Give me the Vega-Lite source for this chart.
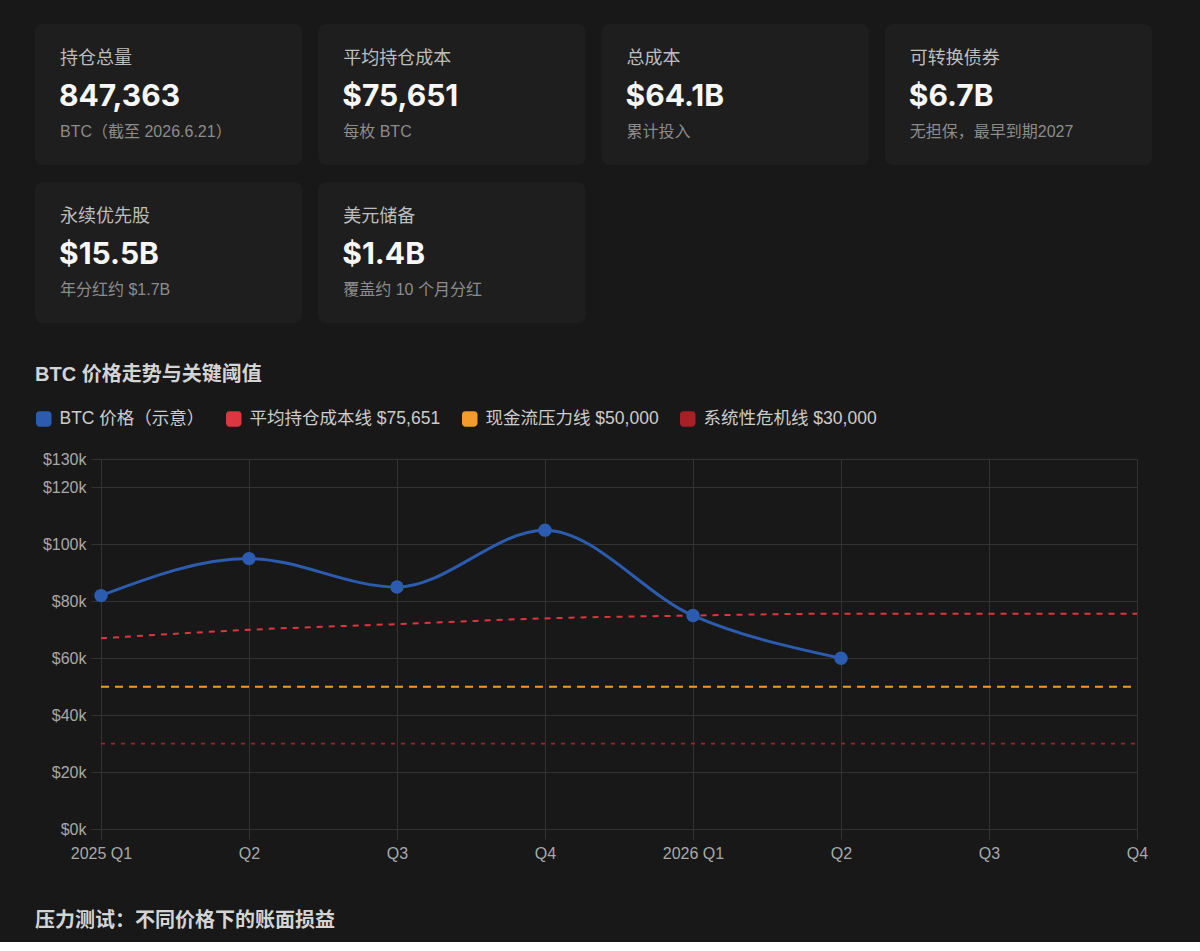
{
  "$schema": "https://vega.github.io/schema/vega-lite/v6.json",
  "background": "#181818",
  "padding": {"top": 24, "left": 35, "right": 48, "bottom": 11},
  "config": {"view": {"stroke": null}},
  "title": {
    "text": "压力测试：不同价格下的账面损益",
    "orient": "bottom",
    "anchor": "start",
    "frame": "bounds",
    "offset": 50,
    "fontSize": 20,
    "fontWeight": "bold",
    "color": "#d4d4d4",
    "font": "Liberation Sans, Noto Sans CJK SC"
  },
  "spacing": 42,
  "resolve": {"legend": {"color": "independent"}},
  "vconcat": [
    {
      "width": 1051,
      "height": 299,
      "data": {
        "values": [
          {"col": 0, "row": 0, "label": "持仓总量", "value": "847,363", "sub": "BTC（截至 2026.6.21）"},
          {"col": 1, "row": 0, "label": "平均持仓成本", "value": "$75,651", "sub": "每枚 BTC"},
          {"col": 2, "row": 0, "label": "总成本", "value": "$64.1B", "sub": "累计投入"},
          {"col": 3, "row": 0, "label": "可转换债券", "value": "$6.7B", "sub": "无担保，最早到期2027"},
          {"col": 0, "row": 1, "label": "永续优先股", "value": "$15.5B", "sub": "年分红约 $1.7B"},
          {"col": 1, "row": 1, "label": "美元储备", "value": "$1.4B", "sub": "覆盖约 10 个月分红"}
        ]
      },
      "encoding": {
        "x": {"field": "col", "type": "ordinal", "scale": {"domain": [0, 1, 2, 3], "range": [-66, 1051], "paddingInner": 0.0565, "paddingOuter": 0}, "axis": null},
        "y": {"field": "row", "type": "ordinal", "scale": {"domain": [0, 1], "paddingInner": 0.1076, "paddingOuter": 0}, "axis": null}
      },
      "layer": [
        {"mark": {"type": "rect", "fill": "#1e1e1e", "cornerRadius": 8}},
        {
          "mark": {"type": "text", "align": "left", "baseline": "middle", "dx": 25, "dy": 35, "fontSize": 18, "color": "#bdbdbd", "font": "Liberation Sans, Noto Sans CJK SC"},
          "encoding": {
            "x": {"field": "col", "type": "ordinal", "bandPosition": 0},
            "y": {"field": "row", "type": "ordinal", "bandPosition": 0},
            "text": {"field": "label"}
          }
        },
        {
          "mark": {"type": "text", "align": "left", "baseline": "middle", "dx": 24, "dy": 73, "fontSize": 30, "fontWeight": "bold", "color": "#f7f7f7", "font": "Inter, Noto Sans CJK SC"},
          "encoding": {
            "x": {"field": "col", "type": "ordinal", "bandPosition": 0},
            "y": {"field": "row", "type": "ordinal", "bandPosition": 0},
            "text": {"field": "value"}
          }
        },
        {
          "mark": {"type": "text", "align": "left", "baseline": "middle", "dx": 25, "dy": 107.5, "fontSize": 16, "color": "#8c8c8c", "font": "Liberation Sans, Noto Sans CJK SC"},
          "encoding": {
            "x": {"field": "col", "type": "ordinal", "bandPosition": 0},
            "y": {"field": "row", "type": "ordinal", "bandPosition": 0},
            "text": {"field": "sub"}
          }
        }
      ]
    },
    {
      "width": 1036,
      "height": 370,
      "title": {
        "text": "BTC 价格走势与关键阈值",
        "anchor": "start",
        "frame": "bounds",
        "offset": 25,
        "fontSize": 20,
        "fontWeight": "bold",
        "color": "#d4d4d4",
        "font": "Liberation Sans, Noto Sans CJK SC"
      },
      "data": {
        "values": [
          {"q": "2025 Q1", "btc": 82000, "cost": 67000, "cash": 50000, "crisis": 30000},
          {"q": "2025 Q2", "btc": 95000, "cost": 70000, "cash": 50000, "crisis": 30000},
          {"q": "2025 Q3", "btc": 85000, "cost": 72000, "cash": 50000, "crisis": 30000},
          {"q": "2025 Q4", "btc": 105000, "cost": 74000, "cash": 50000, "crisis": 30000},
          {"q": "2026 Q1", "btc": 75000, "cost": 75000, "cash": 50000, "crisis": 30000},
          {"q": "2026 Q2", "btc": 60000, "cost": 75651, "cash": 50000, "crisis": 30000},
          {"q": "2026 Q3", "btc": null, "cost": 75651, "cash": 50000, "crisis": 30000},
          {"q": "2026 Q4", "btc": null, "cost": 75651, "cash": 50000, "crisis": 30000}
        ]
      },
      "encoding": {
        "x": {
          "field": "q",
          "type": "ordinal",
          "scale": {"type": "point", "padding": 0},
          "axis": {
            "title": null,
            "labelAngle": 0,
            "labelExpr": "indexof(datum.value, 'Q1') > 0 ? datum.value : slice(datum.value, 5)",
            "labelOverlap": false,
            "grid": true,
            "gridColor": "#333333",
            "domain": false,
            "tickColor": "#333333",
            "tickSize": 10,
            "labelPadding": 6,
            "labelFontSize": 16,
            "labelColor": "#a8a8a8",
            "labelFont": "Liberation Sans"
          }
        }
      },
      "layer": [
        {
          "mark": {"type": "line", "strokeWidth": 1.8, "strokeDash": [4, 6]},
          "encoding": {
            "y": {
              "field": "crisis",
              "type": "quantitative",
              "scale": {"domain": [0, 130000], "nice": false},
              "axis": {
                "title": null,
                "values": [0, 20000, 40000, 60000, 80000, 100000, 120000, 130000],
                "labelExpr": "'$' + (datum.value / 1000) + 'k'",
                "grid": true,
                "gridColor": "#333333",
                "domain": false,
                "tickColor": "#333333",
                "tickSize": 10,
                "labelPadding": 5,
                "labelFontSize": 16,
                "labelColor": "#a8a8a8",
                "labelFont": "Liberation Sans",
                "minExtent": 66,
                "maxExtent": 66
              }
            },
            "color": {
              "datum": "系统性危机线 $30,000",
              "type": "nominal",
              "scale": {
                "domain": ["BTC 价格（示意）", "平均持仓成本线 $75,651", "现金流压力线 $50,000", "系统性危机线 $30,000"],
                "range": ["#2c5cb0", "#dc3741", "#f39c2b", "#a81f28"]
              },
              "legend": {
                "orient": "none",
                "legendX": -66,
                "legendY": -49,
                "direction": "horizontal",
                "title": null,
                "labelFontSize": 17.5,
                "labelColor": "#cccccc",
                "labelFont": "Liberation Sans, Noto Sans CJK SC",
                "labelLimit": 0,
                "labelOffset": 7,
                "columnPadding": 18,
                "symbolSize": 196,
                "encode": {
                  "symbols": {
                    "update": {
                      "fill": {"scale": "color", "field": "value"},
                      "stroke": {"value": "transparent"},
                      "strokeDash": {"value": [1, 0]},
                      "opacity": {"value": 1},
                      "shape": {"value": "M-1,-0.6A0.4,0.4,0,0,1,-0.6,-1H0.6A0.4,0.4,0,0,1,1,-0.6V0.6A0.4,0.4,0,0,1,0.6,1H-0.6A0.4,0.4,0,0,1,-1,0.6Z"},
                      "size": {"value": 196}
                    }
                  }
                }
              }
            }
          }
        },
        {
          "mark": {"type": "line", "strokeWidth": 2, "strokeDash": [8, 6]},
          "encoding": {
            "y": {"field": "cash", "type": "quantitative"},
            "color": {"datum": "现金流压力线 $50,000", "type": "nominal"}
          }
        },
        {
          "mark": {"type": "line", "strokeWidth": 2, "strokeDash": [6, 6], "interpolate": "monotone"},
          "encoding": {
            "y": {"field": "cost", "type": "quantitative"},
            "color": {"datum": "平均持仓成本线 $75,651", "type": "nominal"}
          }
        },
        {
          "mark": {"type": "line", "strokeWidth": 3, "interpolate": "monotone"},
          "encoding": {
            "y": {"field": "btc", "type": "quantitative"},
            "color": {"datum": "BTC 价格（示意）", "type": "nominal"}
          }
        },
        {
          "mark": {"type": "point", "filled": true, "size": 180, "opacity": 1, "color": "#2c5cb0"},
          "encoding": {
            "y": {"field": "btc", "type": "quantitative"}
          }
        }
      ]
    }
  ]
}
